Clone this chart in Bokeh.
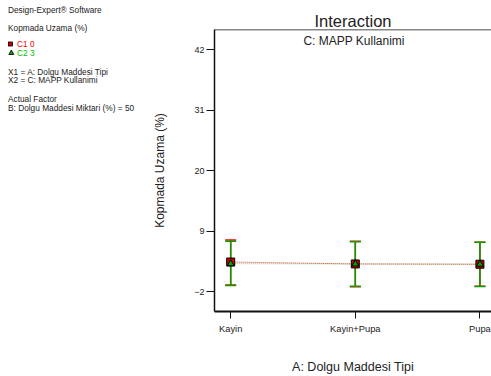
from bokeh.plotting import figure
from bokeh.models import Range1d, FixedTicker, ColumnDataSource, Whisker, TeeHead, Label, Title, Span, Div
from bokeh.layouts import row
from bokeh.embed import file_html
from bokeh.resources import INLINE

categories = ["Kayin", "Kayin+Pupa", "Pupa"]
c1_mean = [3.4, 3.05, 3.0]
c1_upper = [7.4, 7.2, 7.0]
c1_lower = [-0.8, -1.1, -1.0]
c2_mean = [3.1, 3.05, 3.0]
c2_upper = [7.2, 7.1, 7.0]
c2_lower = [-0.85, -1.0, -1.05]
y_ticks = [-2, 9, 20, 31, 42]

info_lines = ["Design-Expert® Software", "Kopmada Uzama (%)",
              "X1 = A: Dolgu Maddesi Tipi", "X2 = C: MAPP Kullanimi",
              "Actual Factor", "B: Dolgu Maddesi Miktari (%) = 50"]
legend_labels = ["C1 0", "C2 3"]

FONT = "Liberation Sans"
RED = "#FF0000"
GREEN = "#00A000"
TXT = "#222222"

# ---------- left info panel (HTML text) ----------
info_y = [10, 28, 71.5, 80, 99, 107.5]
parts = []
for txt, y in zip(info_lines, info_y):
    parts.append(f'<div style="position:absolute;left:8px;top:{y - 5}px;line-height:10px;'
                 f'white-space:nowrap;font-family:\'{FONT}\';font-size:8.3px;color:{TXT}">{txt}</div>')
leg_y = [44, 52.5]
leg_col = [RED, "#00C000"]
for txt, y, c in zip(legend_labels, leg_y, leg_col):
    parts.append(f'<div style="position:absolute;left:17px;top:{y - 5}px;line-height:10px;'
                 f'white-space:nowrap;font-family:\'{FONT}\';font-size:8.3px;color:{c}">{txt}</div>')
parts.append(f'<svg style="position:absolute;left:0;top:0" width="16" height="60">'
             f'<rect x="8.5" y="{leg_y[0] - 2}" width="4" height="4" fill="#CC0000" stroke="black" stroke-width="0.8"/>'
             f'<polygon points="11.3,{leg_y[1] - 2.5} 13.8,{leg_y[1] + 2} 8.8,{leg_y[1] + 2}" fill="#00A000" stroke="black" stroke-width="0.8"/>'
             f'</svg>')
info = Div(text='<div style="position:relative;width:150px;height:376px">' + "".join(parts) + '</div>',
           width=150, height=376, margin=0)

# ---------- main chart ----------
xs = list(range(len(categories)))
s1 = ColumnDataSource(dict(x=xs, m=c1_mean, u=c1_upper, l=c1_lower))
s2 = ColumnDataSource(dict(x=xs, m=c2_mean, u=c2_upper, l=c2_lower))

p = figure(width=341, height=376, output_backend="svg", toolbar_location=None,
           x_range=Range1d(-0.13, 2.093), y_range=Range1d(-5.6, 45.7),
           min_border_left=62, min_border_right=0, min_border_top=29, min_border_bottom=64)
p.outline_line_color = None
p.grid.visible = False
p.add_layout(Span(location=45.7, dimension="width", line_color="#111111", line_width=1.5))

title = Title(text="Interaction", align="center", text_font=FONT, text_font_size="16.5px",
              text_font_style="normal", text_color=TXT, standoff=0, offset=0)
p.add_layout(title, "above")

p.xaxis.ticker = FixedTicker(ticks=xs)
p.xaxis.major_label_overrides = {i: c for i, c in enumerate(categories)}
p.yaxis.ticker = FixedTicker(ticks=y_ticks)
for ax in (p.xaxis, p.yaxis):
    ax.axis_line_color = "#111111"
    ax.axis_line_width = 1.5
    ax.major_tick_line_color = "#111111"
    ax.major_tick_line_width = 1
    ax.minor_tick_line_color = None
    ax.major_tick_in = 0
    ax.major_label_text_font = FONT
    ax.major_label_text_color = TXT
    ax.axis_label_text_font = FONT
    ax.axis_label_text_font_style = "normal"
    ax.axis_label_text_color = TXT
p.xaxis.axis_line_width = 2
p.xaxis.major_tick_out = 7
p.xaxis.major_label_text_font_size = "9.3px"
p.xaxis.major_label_standoff = 5
p.xaxis.axis_label = "A: Dolgu Maddesi Tipi"
p.xaxis.axis_label_text_font_size = "12.5px"
p.xaxis.axis_label_standoff = 23
p.yaxis.major_tick_out = 8
p.yaxis.major_label_text_font_size = "9px"
p.yaxis.major_label_standoff = 2
p.yaxis.axis_label = "Kopmada Uzama (%)"
p.yaxis.axis_label_text_font_size = "12px"
p.yaxis.axis_label_standoff = 24

p.add_layout(Label(x=0.99, y=43.6, text="C: MAPP Kullanimi", text_font=FONT, text_font_size="12px",
                   text_color=TXT, text_align="center", text_baseline="middle"))

# error bars
p.add_layout(Whisker(source=s1, base="x", upper="u", lower="l", line_color=RED, line_width=1.5,
                     upper_head=TeeHead(size=11, line_color=RED, line_width=1.5),
                     lower_head=TeeHead(size=11, line_color=RED, line_width=1.5)))
p.add_layout(Whisker(source=s2, base="x", upper="u", lower="l", line_color=GREEN, line_width=1.5,
                     upper_head=TeeHead(size=11, line_color=GREEN, line_width=1.5),
                     lower_head=TeeHead(size=11, line_color=GREEN, line_width=1.5)))

p.line("x", "m", source=s1, line_color=RED, line_dash="1 1", line_width=1, line_alpha=0.8)
p.line("x", "m", source=s2, line_color=GREEN, line_dash="1 1", line_width=1, line_alpha=0.5)
p.scatter("x", "m", source=s1, marker="square", size=8, fill_color="#CC0000", line_color="black", line_width=1)
p.scatter("x", "m", source=s2, marker="triangle", size=7, fill_color="#00A000", line_color="black", line_width=1)

layout = row(info, p, spacing=0)
open("out.html", "w").write(file_html(layout, INLINE))
